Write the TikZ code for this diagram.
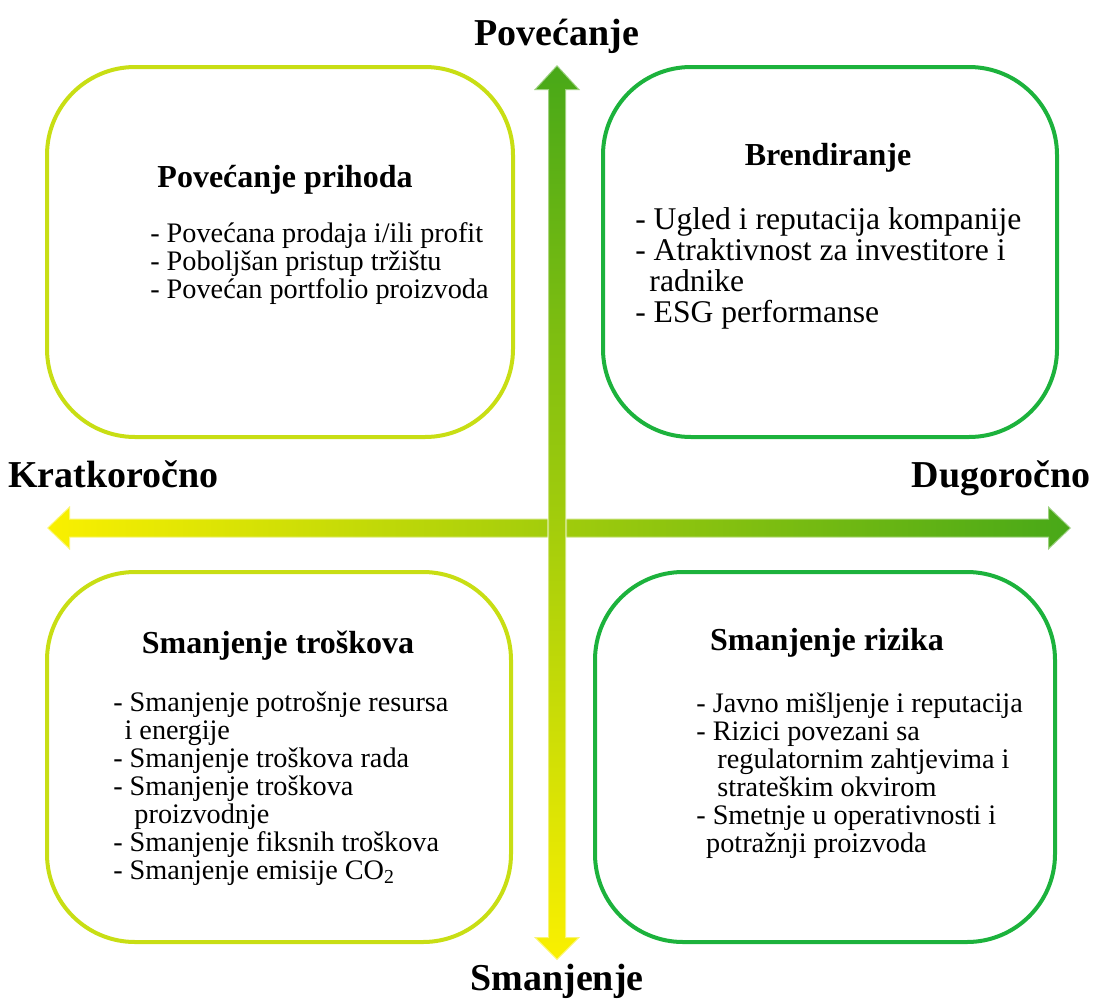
\documentclass[tikz,border=0pt]{standalone}
\usepackage{fontspec}
\setmainfont{Liberation Serif}
\usetikzlibrary{positioning}
\definecolor{limeline}{RGB}{200,222,20}
\definecolor{greenline}{RGB}{28,178,60}
\definecolor{axisyellow}{RGB}{250,240,0}
\definecolor{axisgreen}{RGB}{72,168,24}
\newcommand{\itemfont}{\fontsize{21.2}{21}\selectfont\lineskiplimit=-8pt\relax}
\newcommand{\bigitemfont}{\fontsize{23.7}{23.25}\selectfont\lineskiplimit=-8pt\relax}

\begin{document}
\begin{tikzpicture}[x=0.75pt,y=-0.75pt]
    \tikzset{quad/.style={draw,rectangle,line width=3pt,rounded corners=66pt,minimum height=277.5pt},
             axislabel/.style={font=\fontsize{28.5}{30}\selectfont\bfseries,inner sep=0pt},
             heading/.style={font=\fontsize{24}{26}\selectfont\bfseries,inner sep=0pt,anchor=base},
             items/.style={font=\itemfont,align=left,anchor=base west,inner sep=0pt},
             axisarrow/.style={draw=white,draw opacity=.45,line width=1.5pt}}
    \useasboundingbox (0,0) rectangle (1099,1003);

    % the four fields
    \node[quad,limeline,minimum width=349.5pt] (prihodi) at (280,252) {};
    \node[quad,greenline,minimum width=340.5pt] (brend) at (830,252) {};
    \node[quad,limeline,minimum width=348pt] (troskovi) at (279,757) {};
    \node[quad,greenline,minimum width=345pt] (rizik) at (825,757) {};

    % time axis and value axis
    \shadedraw[axisarrow,left color=axisyellow,right color=axisgreen]
    (70,518.5) -- (1048,518.5) -- (1048,506) -- (1071,528) -- (1048,550) -- (1048,537.5)
    -- (70,537.5) -- (70,550) -- (47,528) -- (70,506) -- cycle;
    \shadedraw[axisarrow,bottom color=axisyellow,top color=axisgreen]
    (548,937) -- (548,90) -- (534,90) -- (557,65) -- (580,90) -- (566,90)
    -- (566,937) -- (580,937) -- (557,960) -- (534,937) -- cycle;

    \node[axislabel,anchor=base] (gore) at (557,45) {Povećanje};
    \node[axislabel,anchor=base] (dolje) at (557,990) {Smanjenje};
    \node[axislabel,anchor=base west] (lijevo) at (8,487) {Kratkoročno};
    \node[axislabel,anchor=base east] (desno) at (1091,487) {Dugoročno};

    % lists sit on the baseline of their last line
    \node[heading] (prihodinaslov) at (285,187) {Povećanje prihoda};
    \node[items] (prihodilista) at (150,298)
    {- Povećana prodaja i/ili profit\\- Poboljšan pristup tržištu\\- Povećan portfolio proizvoda};

    \node[heading] (brendnaslov) at (828,165) {Brendiranje};
    \node[items,font=\bigitemfont] (brendlista) at (635,322)
    {- Ugled i reputacija kompanije\\- Atraktivnost za investitore i\\\hspace*{0.45em}radnike\\- ESG performanse};

    \node[heading] (troskovinaslov) at (278,653) {Smanjenje troškova};
    \node[items] (troskovilista) at (113,879)
    {- Smanjenje potrošnje resursa\\\hspace*{0.4em}i energije\\- Smanjenje troškova rada\\- Smanjenje troškova\\\hspace*{0.75em}proizvodnje\\- Smanjenje fiksnih troškova\\- Smanjenje emisije CO\textsubscript{2}};

    \node[heading] (riziknaslov) at (827,650) {Smanjenje rizika};
    \node[items] (riziklista) at (696,852)
    {- Javno mišljenje i reputacija\\- Rizici povezani sa\\\hspace*{0.75em}regulatornim zahtjevima i\\\hspace*{0.75em}strateškim okvirom\\- Smetnje u operativnosti i\\\hspace*{0.35em}potražnji proizvoda};
\end{tikzpicture}
\end{document}
